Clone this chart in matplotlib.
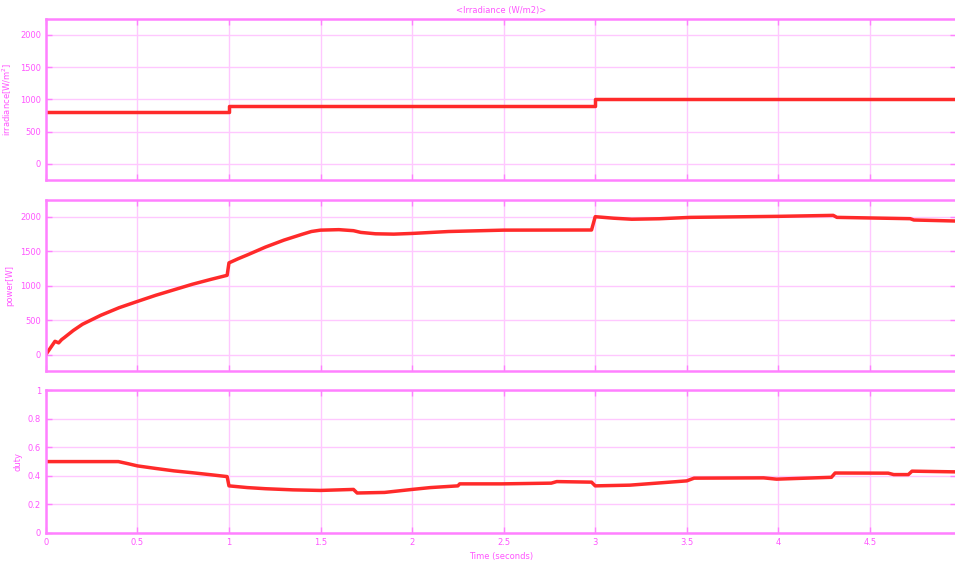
import matplotlib
matplotlib.use("Agg")
import matplotlib.pyplot as plt

# irradiance steps (W/m^2)
irr_t = [0.0, 1.0, 1.0, 3.0, 3.0, 4.97]
irr_v = [800, 800, 900, 900, 1000, 1000]

# PV power (W)
pow_t = [0.0, 0.05, 0.07, 0.086, 0.1, 0.15, 0.2, 0.3, 0.4, 0.5, 0.6, 0.7, 0.8, 0.9,
         0.99, 1.0, 1.05, 1.1, 1.2, 1.3, 1.4, 1.45, 1.5, 1.6, 1.68, 1.72, 1.8, 1.9,
         2.0, 2.2, 2.5, 2.98, 3.0, 3.1, 3.2, 3.35, 3.52, 4.0, 4.3, 4.32, 4.72, 4.74, 4.97]
pow_v = [0, 193, 170, 217, 245, 350, 440, 570, 680, 771, 860, 940, 1020, 1090,
         1150, 1330, 1390, 1445, 1560, 1660, 1745, 1785, 1805, 1812, 1797, 1772, 1752, 1747,
         1757, 1785, 1805, 1807, 2000, 1978, 1963, 1970, 1990, 2005, 2019, 1990, 1971, 1952, 1937]

# duty cycle
duty_t = [0.0, 0.396, 0.45, 0.5, 0.6, 0.7, 0.8, 0.9, 0.99, 1.0, 1.1, 1.2, 1.35, 1.5,
          1.68, 1.70, 1.85, 2.0, 2.1, 2.25, 2.26, 2.49, 2.76, 2.79, 2.98, 3.0, 3.19,
          3.5, 3.54, 3.92, 3.99, 4.29, 4.31, 4.6, 4.63, 4.71, 4.73, 4.97]
duty_v = [0.5, 0.5, 0.485, 0.47, 0.452, 0.435, 0.422, 0.408, 0.395, 0.33, 0.318, 0.31,
          0.302, 0.298, 0.305, 0.28, 0.284, 0.305, 0.318, 0.33, 0.344, 0.344, 0.349, 0.36,
          0.356, 0.33, 0.335, 0.365, 0.384, 0.386, 0.377, 0.39, 0.42, 0.419, 0.409, 0.409,
          0.433, 0.428]

x_ticks = [0, 0.5, 1, 1.5, 2, 2.5, 3, 3.5, 4, 4.5]
x_labels = ["0", "0.5", "1", "1.5", "2", "2.5", "3", "3.5", "4", "4.5"]

MAG = "#ff55ff"
SPINE = "#ff80ff"
GRID = "#ffc8ff"
RED = "#ff2a2a"


def style(ax):
    ax.set_xlim(0, 4.97)
    ax.set_xticks(x_ticks)
    ax.grid(True, color=GRID, linewidth=1.0)
    for s in ax.spines.values():
        s.set_color(SPINE)
        s.set_linewidth(1.8)
    ax.tick_params(axis="both", colors=SPINE, labelcolor=MAG, labelsize=6,
                   direction="in", length=4, width=1, right=True, top=True)


fig = plt.figure(figsize=(9.55, 5.71), dpi=100)
ax1 = fig.add_axes([0.048, 0.685, 0.953, 0.282])
ax2 = fig.add_axes([0.048, 0.350, 0.953, 0.2995])
ax3 = fig.add_axes([0.048, 0.0666, 0.953, 0.250])

ax1.plot(irr_t, irr_v, color=RED, linewidth=2.5)
ax1.set_ylim(-250, 2250)
ax1.set_yticks([0, 500, 1000, 1500, 2000])
ax1.set_ylabel("irradiance[W/m$^2$]", color=MAG, fontsize=6, labelpad=4)
ax1.set_title("<Irradiance (W/m2)>", color=MAG, fontsize=6, pad=4)
style(ax1)
ax1.set_xticklabels([])

ax2.plot(pow_t, pow_v, color=RED, linewidth=2.5)
ax2.set_ylim(-240, 2240)
ax2.set_yticks([0, 500, 1000, 1500, 2000])
ax2.set_ylabel("power[W]", color=MAG, fontsize=6, labelpad=4)
style(ax2)
ax2.set_xticklabels([])

ax3.plot(duty_t, duty_v, color=RED, linewidth=2.5)
ax3.set_ylim(0, 1)
ax3.set_yticks([0, 0.2, 0.4, 0.6, 0.8, 1])
ax3.set_yticklabels(["0", "0.2", "0.4", "0.6", "0.8", "1"])
ax3.set_ylabel("duty", color=MAG, fontsize=6, labelpad=4)
style(ax3)
ax3.set_xticklabels(x_labels)
ax3.set_xlabel("Time (seconds)", color=MAG, fontsize=6, labelpad=4)

fig.savefig("out.png", dpi=100)
